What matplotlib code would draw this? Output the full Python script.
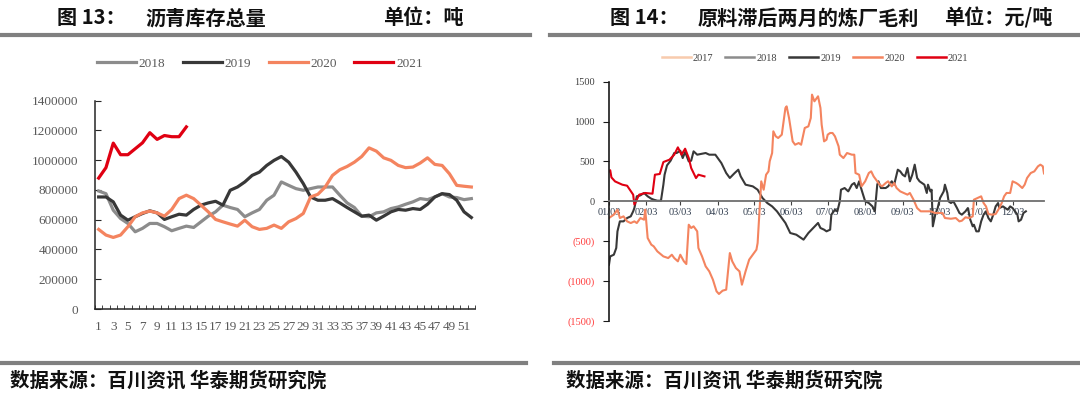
import matplotlib
matplotlib.use('Agg')
import matplotlib.pyplot as plt
import matplotlib.dates as mdates
from matplotlib.lines import Line2D
from matplotlib.ticker import FuncFormatter
import pandas as pd

CJK = ['Noto Sans CJK SC', 'DejaVu Sans']
SERIF = 'Liberation Serif'

# ---- chart 13: weekly asphalt inventory (tonnes)
weeks = list(range(1, 53))
inv_2018 = [793, 775, 664, 608, 575, 519, 542, 575, 575, 553, 526, 542, 557, 548, 586, 624, 653,
            698, 682, 669, 620, 646, 669, 731, 765, 854, 831, 809, 798, 809, 820, 820, 820, 765,
            713, 682, 624, 620, 646, 653, 675, 686, 704, 720, 742, 735, 753, 775, 753, 749, 735, 742]
inv_2019 = [753, 753, 720, 631, 597, 620, 642, 660, 646, 602, 620, 637, 631, 669, 698, 713, 724,
            698, 798, 820, 854, 898, 920, 965, 999, 1025, 987, 920, 843, 753, 731, 731, 742, 713,
            682, 653, 624, 631, 597, 624, 653, 669, 664, 675, 669, 704, 753, 775, 769, 731, 653, 615]
inv_2020 = [535, 497, 481, 497, 553, 620, 646, 658, 646, 624, 669, 742, 765, 742, 698, 653, 602,
            586, 571, 557, 597, 553, 535, 542, 564, 542, 586, 608, 642, 753, 771, 820, 898, 936,
            958, 987, 1025, 1083, 1061, 1016, 999, 965, 950, 954, 981, 1016, 972, 965, 909, 831, 825, 820]
inv_2021 = [880, 950, 1115, 1037, 1037, 1077, 1117, 1185, 1140, 1166, 1158, 1158, 1224]

# ---- chart 14: refinery margin, feedstock lagged two months (yuan/t)
d2019 = ['01-03', '01-04', '01-07', '01-09', '01-10', '01-12', '01-15', '01-18', '01-21', '01-23',
         '01-24', '01-26', '01-29', '02-01', '02-04', '02-07', '02-09', '02-12', '02-15', '02-17',
         '02-18', '02-20', '02-23', '02-26', '02-28', '03-03', '03-05', '03-07', '03-10', '03-12',
         '03-14', '03-17', '03-20', '03-24', '03-27', '04-01', '04-06', '04-10', '04-13', '04-17',
         '04-20', '04-22', '04-26', '05-02', '05-06', '05-10', '05-14', '05-18', '05-22', '05-29',
         '06-02', '06-07', '06-13', '06-17', '06-21', '06-25', '06-27', '06-30', '07-02', '07-05',
         '07-06', '07-09', '07-11', '07-13', '07-14', '07-17', '07-20', '07-23', '07-25', '07-27',
         '07-29', '07-31', '08-03', '08-06', '08-09', '08-11', '08-13', '08-14', '08-16', '08-20',
         '08-22', '08-25', '08-27', '08-30', '09-01', '09-03', '09-05', '09-07', '09-09', '09-11',
         '09-13', '09-15', '09-17', '09-19', '09-21', '09-23', '09-24', '09-26', '09-27', '09-28',
         '09-30', '10-02', '10-04', '10-07', '10-08', '10-10', '10-11', '10-13', '10-15', '10-18',
         '10-20', '10-22', '10-25', '10-27', '10-29', '10-31', '11-01', '11-03', '11-05', '11-07',
         '11-09', '11-11', '11-13', '11-15', '11-17', '11-19', '11-21', '11-22', '11-25', '11-27',
         '11-29', '12-01', '12-03', '12-05', '12-07', '12-08', '12-10', '12-12', '12-14']
m2019 = [-794, -690, -669, -585, -376, -251, -251, -209, -188, -125,
         -84, 63, 75, 105, 63, 33, 21, 8, 8, 209,
         334, 451, 510, 606, 606, 635, 543, 619, 501, 510,
         627, 585, 594, 606, 585, 585, 480, 355, 293, 355,
         397, 313, 209, 188, 146, 42, -21, -63, -125, -271,
         -397, -418, -480, -397, -334, -271, -334, -355, -376, -355,
         -167, -105, -125, 0, 146, 167, 125, 209, 230, 167,
         251, 146, 0, -21, -63, -125, 209, 251, 167, 167,
         188, 251, 209, 397, 376, 334, 313, 418, 251, 334,
         460, 293, 251, 230, 209, 105, 209, 125, 146, -313,
         -167, -84, 42, 125, 209, 105, 0, -21, 0, -84,
         -146, -167, -125, -84, -230, -313, -293, -376, -376, -251,
         -167, -125, -209, -251, -167, -63, -21, -84, -63, -84,
         -105, -63, -84, -125, -167, -251, -230, -146, -125]

d2020 = ['01-03', '01-07', '01-10', '01-12', '01-15', '01-18', '01-21', '01-24', '01-26', '01-29',
         '02-01', '02-02', '02-04', '02-07', '02-09', '02-12', '02-17', '02-21', '02-24', '02-26',
         '03-01', '03-03', '03-06', '03-08', '03-10', '03-12', '03-14', '03-17', '03-18', '03-21',
         '03-24', '03-27', '03-30', '04-02', '04-04', '04-07', '04-10', '04-13', '04-15', '04-18',
         '04-21', '04-23', '04-26', '04-29', '05-02', '05-05', '05-06', '05-08', '05-09', '05-11',
         '05-13', '05-15', '05-16', '05-18', '05-19', '05-21', '05-23', '05-26', '05-29', '05-30',
         '06-01', '06-04', '06-06', '06-09', '06-11', '06-14', '06-17', '06-19', '06-20', '06-22',
         '06-25', '06-27', '06-28', '06-30', '07-02', '07-03', '07-05', '07-07', '07-09', '07-12',
         '07-13', '07-16', '07-19', '07-23', '07-25', '07-26', '07-29', '07-31', '08-03', '08-06',
         '08-08', '08-10', '08-13', '08-15', '08-17', '08-20', '08-22', '08-25', '08-27', '08-29',
         '09-01', '09-04', '09-07', '09-09', '09-12', '09-15', '09-18', '09-22', '09-26', '09-30',
         '10-06', '10-08', '10-13', '10-17', '10-20', '10-22', '10-25', '10-28', '10-31', '11-01',
         '11-04', '11-07', '11-09', '11-11', '11-13', '11-16', '11-19', '11-22', '11-24', '11-26',
         '11-28', '12-01', '12-03', '12-06', '12-08', '12-11', '12-13', '12-15', '12-18', '12-21',
         '12-24', '12-26', '12-28', '12-29']
m2020 = [-209, -167, -104, -209, -188, -251, -272, -251, -272, -209,
         -230, -104, -460, -543, -564, -627, -690, -711, -669, -711,
         -752, -669, -752, -786, -293, -334, -313, -376, -585, -690,
         -815, -878, -982, -1128, -1161, -1120, -1107, -648, -752, -836,
         -878, -1045, -878, -731, -669, -606, -522, 0, 251, 146,
         334, 376, 502, 606, 878, 815, 794, 836, 1170, 1191,
         1045, 752, 710, 731, 710, 920, 940, 1045, 1338, 1254,
         1317, 1170, 961, 752, 773, 836, 857, 857, 815, 690,
         585, 543, 606, 585, 585, 355, 334, 188, 251, 355,
         376, 313, 251, 209, 188, 230, 251, 188, 230, 167,
         125, 105, 84, 105, 21, -84, -125, -125, -125, -146,
         -146, -209, -218, -209, -251, -243, -200, -209, -188, 21,
         42, 63, -21, -63, -159, -167, -159, -84, -21, 63,
         105, 105, 251, 230, 209, 167, 209, 293, 355, 376,
         439, 460, 440, 350]

d2021 = ['01-03', '01-04', '01-05', '01-08', '01-14', '01-18', '01-23', '01-24', '01-28', '02-02',
         '02-08', '02-10', '02-14', '02-17', '02-22', '02-26', '03-01', '03-04', '03-07', '03-10',
         '03-12', '03-14', '03-16', '03-18', '03-23']
m2021 = [376, 390, 300, 250, 209, 196, 84, -40, 84, 105,
         96, 334, 343, 493, 522, 585, 677, 585, 660, 543,
         418, 355, 292, 334, 313]

C18, C19, C20, C21, C17 = '#8C8C8C', '#383838', '#F4845F', '#E00012', '#F8CBAD'

fig = plt.figure(figsize=(10.8, 3.99), dpi=100)

# headings, rules and sources
for x, s in [(57, '图 13：'), (145, '沥青库存总量'), (383, '单位：吨'),
             (610, '图 14：'), (698, '原料滞后两月的炼厂毛利'), (944, '单位：元/吨')]:
    fig.text(x / 1080, 1 - 18 / 399, s, family=CJK, fontsize=14.5, fontweight='bold',
             va='center', ha='left', color='#111111')
for x0, x1 in [(0, 530), (550, 1080)]:
    fig.add_artist(Line2D([x0 / 1080, x1 / 1080], [1 - 35 / 399] * 2, color='#808080', lw=3))
for x0, x1 in [(0, 526), (554, 1080)]:
    fig.add_artist(Line2D([x0 / 1080, x1 / 1080], [1 - 363 / 399] * 2, color='#808080', lw=3))
for x in [10, 566]:
    fig.text(x / 1080, 1 - 381 / 399, '数据来源：百川资讯 华泰期货研究院', family=CJK,
             fontsize=14, fontweight='bold', va='center', ha='left', color='#111111')

# ---- left chart
ax = fig.add_axes([95 / 1080, 1 - 309 / 399, 380 / 1080, (309 - 100.7) / 399])
ax.plot(weeks, [v * 1000 for v in inv_2018], color=C18, lw=2.3, label='2018')
ax.plot(weeks, [v * 1000 for v in inv_2019], color=C19, lw=2.3, label='2019')
ax.plot(weeks, [v * 1000 for v in inv_2020], color=C20, lw=2.3, label='2020')
ax.plot(weeks[:len(inv_2021)], [v * 1000 for v in inv_2021], color=C21, lw=2.3, label='2021')
ax.set_xlim(0.5, 52.5)
ax.set_ylim(0, 1400000)
ax.set_yticks(range(0, 1400001, 200000))
ax.yaxis.set_major_formatter(FuncFormatter(lambda v, p: f'{v:.0f}'))
ax.set_xticks(range(1, 53, 2))
ax.set_xticks([w - 0.5 for w in weeks] + [52.5], minor=True)
ax.tick_params(axis='x', which='major', length=0, pad=9)
ax.tick_params(axis='x', which='minor', direction='in', length=3, color='#262626')
ax.tick_params(axis='y', direction='in', length=4, pad=12, color='#262626')
for lbl in ax.get_xticklabels() + ax.get_yticklabels():
    lbl.set_family(SERIF)
    lbl.set_fontsize(9.5)
    lbl.set_color('#595959')
for s in ['top', 'right']:
    ax.spines[s].set_visible(False)
for s in ['left', 'bottom']:
    ax.spines[s].set_color('#262626')
    ax.spines[s].set_linewidth(1.1)
fig.legend(*ax.get_legend_handles_labels(), loc='center', bbox_to_anchor=(260 / 1080, 1 - 64 / 399),
           ncol=4, frameon=False, handlelength=2.95, handletextpad=0.25, columnspacing=1.3,
           prop={'family': SERIF, 'size': 9.5}, labelcolor='#595959')

# ---- right chart
def to_dates(days):
    return pd.to_datetime(['2021-' + d for d in days])

bx = fig.add_axes([609 / 1080, 1 - 321 / 399, (1044 - 609) / 1080, (321 - 81.7) / 399])
bx.plot(to_dates(d2019), m2019, color=C19, lw=1.5)
bx.plot(to_dates(d2020), m2020, color=C20, lw=1.5)
bx.plot(to_dates(d2021), m2021, color=C21, lw=1.5)
bx.set_xlim(pd.Timestamp('2021-01-03'), pd.Timestamp('2021-12-29'))
bx.set_ylim(-1500, 1500)
yt = [1500, 1000, 500, 0, -500, -1000, -1500]
bx.set_yticks(yt, labels=[f'({-v})' if v < 0 else str(v) for v in yt])
for lbl, v in zip(bx.get_yticklabels(), yt):
    lbl.set_color('#FF3B3B' if v < 0 else '#404040')
bx.xaxis.set_major_locator(mdates.MonthLocator(bymonthday=3))
bx.xaxis.set_major_formatter(mdates.DateFormatter('%m/%d'))
bx.spines['bottom'].set_position(('data', 0))
bx.spines['bottom'].set_color('#6E6E6E')
bx.spines['bottom'].set_linewidth(1.3)
bx.spines['left'].set_color('#1A1A1A')
bx.spines['left'].set_linewidth(1.2)
for s in ['top', 'right']:
    bx.spines[s].set_visible(False)
bx.tick_params(axis='x', direction='out', length=3, pad=1.5, color='#404040')
bx.tick_params(axis='y', direction='out', length=4, pad=6, color='#1A1A1A')
for lbl in bx.get_xticklabels() + bx.get_yticklabels():
    lbl.set_family(SERIF)
    lbl.set_fontsize(7.5)
for lbl in bx.get_xticklabels():
    lbl.set_color('#333F50')

handles = [Line2D([], [], color=c, lw=1.8) for c in [C17, C18, C19, C20, C21]]
fig.legend(handles, ['2017', '2018', '2019', '2020', '2021'], loc='center',
           bbox_to_anchor=(815 / 1080, 1 - 58 / 399), ncol=5, frameon=False,
           handlelength=2.8, handletextpad=0.2, columnspacing=1.15,
           prop={'family': SERIF, 'size': 7.5}, labelcolor='#404040')

fig.savefig('out.png', dpi=100)
